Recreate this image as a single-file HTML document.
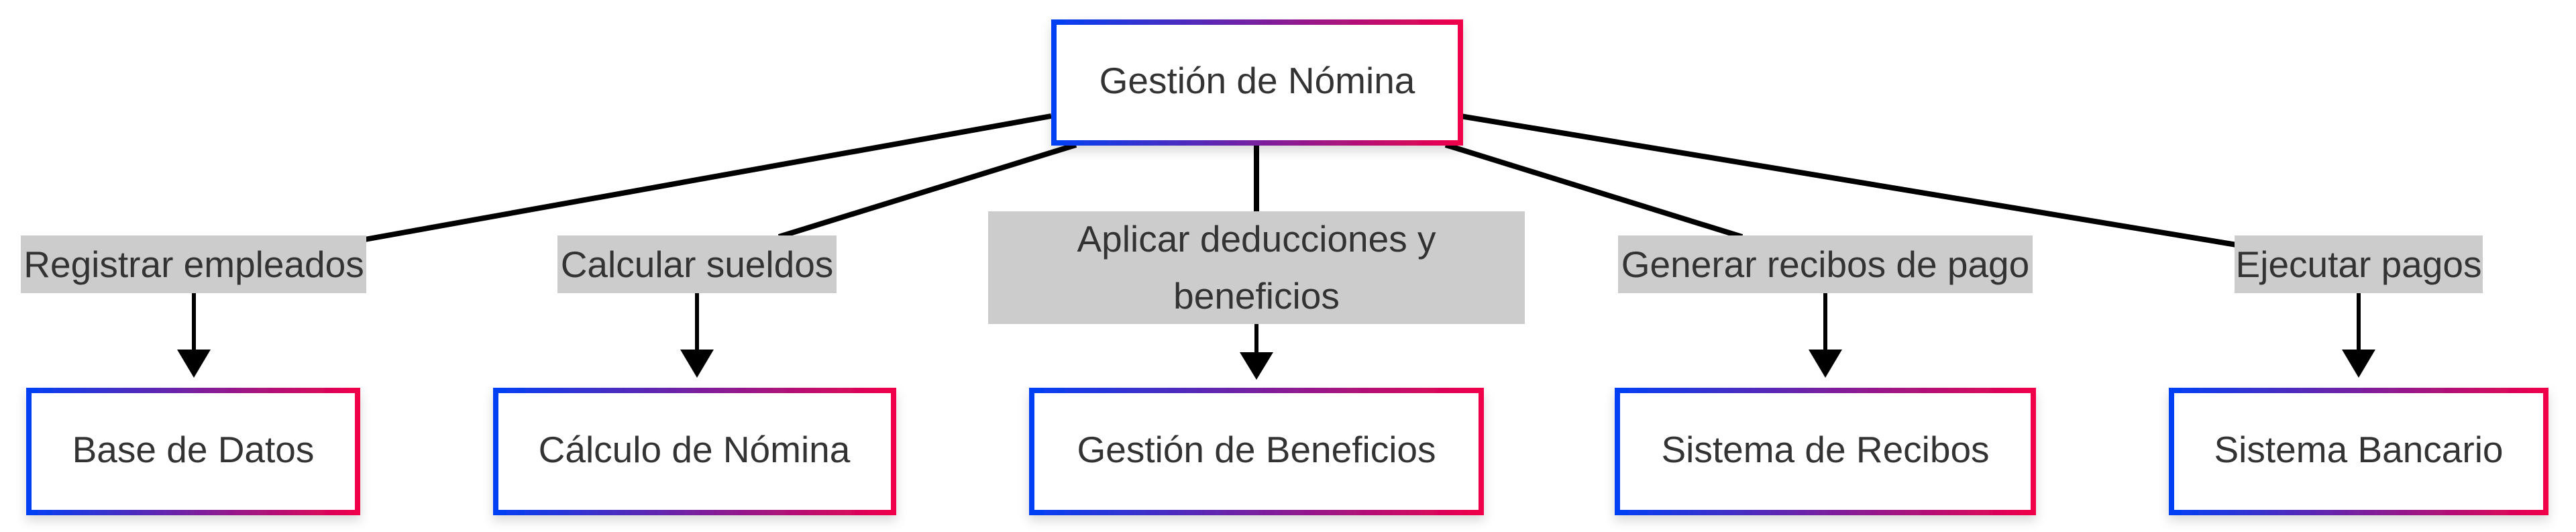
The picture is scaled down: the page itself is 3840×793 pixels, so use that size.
<!DOCTYPE html>
<html><head><meta charset="utf-8"><style>
html,body{margin:0;padding:0;background:#fff;width:3840px;height:793px;overflow:hidden}
svg text{font-family:"Liberation Sans",Arial,sans-serif;font-size:55px;fill:#333;text-anchor:middle;dominant-baseline:central}
</style></head><body>
<svg width="3840" height="793" viewBox="0 0 3840 793" xmlns="http://www.w3.org/2000/svg">
<defs>
<linearGradient id="g" x1="0" y1="0" x2="1" y2="0" gradientUnits="objectBoundingBox">
<stop offset="0" stop-color="#0040f5"/><stop offset="1" stop-color="#f0004a"/>
</linearGradient>
<filter id="sh" x="-10%" y="-10%" width="120%" height="130%">
<feDropShadow dx="0" dy="8" stdDeviation="8" flood-color="#000" flood-opacity="0.15"/>
</filter>
</defs>
<g stroke="#000" stroke-width="8" fill="none">
<line x1="1567" y1="173" x2="527" y2="360"/>
<line x1="1604" y1="216" x2="1161" y2="353"/>
<line x1="1873" y1="216" x2="1873" y2="315"/>
<line x1="2155" y1="216" x2="2597" y2="353"/>
<line x1="2177" y1="173" x2="3340" y2="366"/>
</g>
<g fill="#ccc">
<rect x="31" y="351" width="515" height="86"/>
<rect x="831" y="351" width="416" height="86"/>
<rect x="1473" y="315" width="800" height="168"/>
<rect x="2412" y="351" width="618" height="86"/>
<rect x="3331" y="351" width="370" height="86"/>
</g>
<text x="289" y="394">Registrar empleados</text>
<text x="1039" y="394">Calcular sueldos</text>
<text x="1873" y="356">Aplicar deducciones y</text>
<text x="1873" y="441">beneficios</text>
<text x="2721" y="394">Generar recibos de pago</text>
<text x="3516" y="394">Ejecutar pagos</text>
<g stroke="#000" stroke-width="6">
<line x1="289" y1="437" x2="289" y2="525"/>
<line x1="1039" y1="437" x2="1039" y2="525"/>
<line x1="1873" y1="483" x2="1873" y2="525"/>
<line x1="2721" y1="437" x2="2721" y2="525"/>
<line x1="3516" y1="437" x2="3516" y2="525"/>
</g>
<g fill="#000">
<polygon points="264,521 314,521 289,563"/>
<polygon points="1014,521 1064,521 1039,563"/>
<polygon points="1848,525 1898,525 1873,566"/>
<polygon points="2696,521 2746,521 2721,563"/>
<polygon points="3491,521 3541,521 3516,563"/>
</g>
<g fill="#fff" stroke="url(#g)" stroke-width="8" filter="url(#sh)">
<rect x="1571" y="33" width="606" height="180"/>
<rect x="43" y="582" width="490" height="182"/>
<rect x="739" y="582" width="593" height="182"/>
<rect x="1538" y="582" width="670" height="182"/>
<rect x="2411" y="582" width="620" height="182"/>
<rect x="3237" y="582" width="558" height="182"/>
</g>
<text x="1874" y="120">Gestión de Nómina</text>
<text x="288" y="670">Base de Datos</text>
<text x="1035" y="670">Cálculo de Nómina</text>
<text x="1873" y="670">Gestión de Beneficios</text>
<text x="2721" y="670">Sistema de Recibos</text>
<text x="3516" y="670">Sistema Bancario</text>
</svg>
</body></html>
